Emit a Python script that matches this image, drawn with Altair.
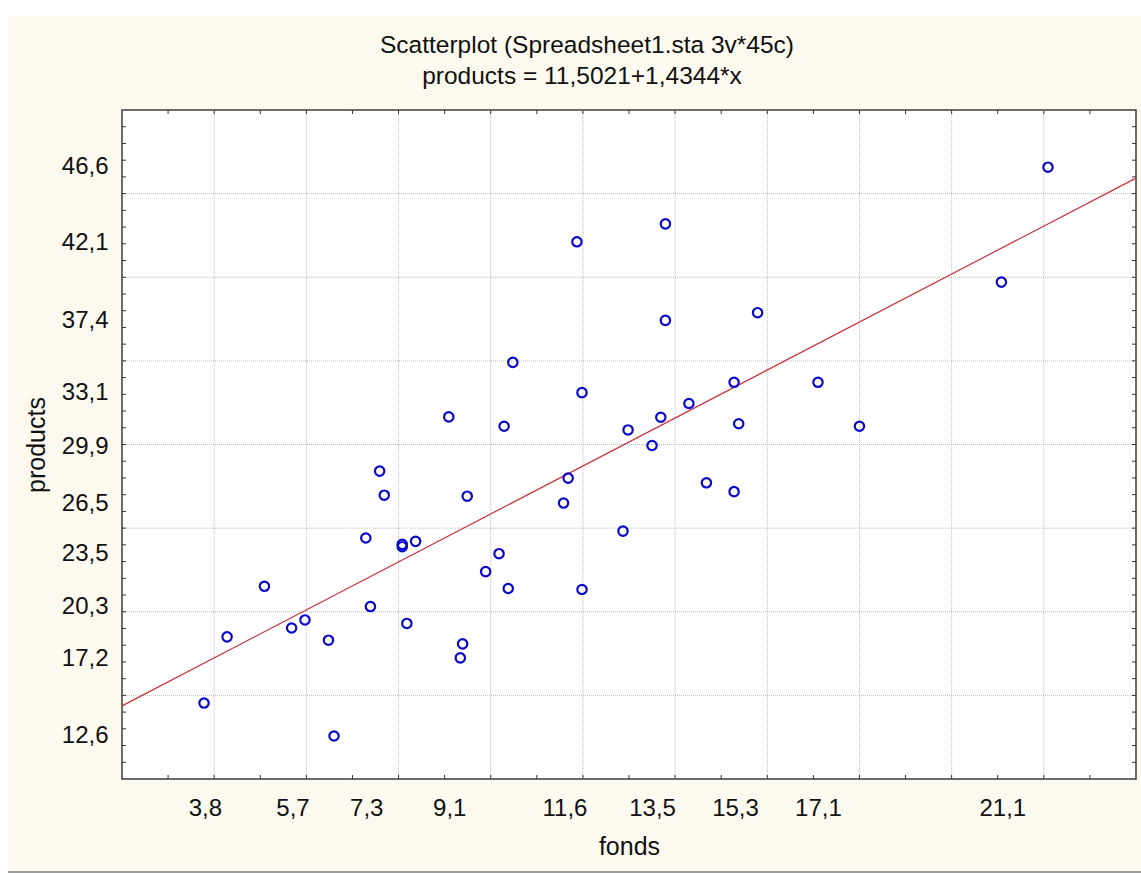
import altair as alt
import pandas as pd

# ---- data ----
fonds = [9.09, 13.79, 11.87, 13.79, 15.79, 10.48, 11.98, 15.28, 14.30, 10.29,
         13.69, 12.98, 15.38, 13.50, 22.09, 21.08, 17.10, 18.00, 7.59, 7.69,
         9.49, 7.29, 8.08, 8.08, 8.37, 5.09, 7.39, 8.18, 5.97, 5.68,
         4.28, 6.48, 9.39, 9.34, 3.78, 6.60, 11.68, 11.58, 14.68, 15.28,
         12.87, 10.18, 9.89, 10.38, 11.98]
products = [31.65, 43.19, 42.12, 37.42, 37.88, 34.91, 33.10, 33.72, 32.45, 31.09,
            31.63, 30.87, 31.24, 29.94, 46.58, 39.71, 33.72, 31.09, 28.41, 26.97,
            26.91, 24.41, 24.03, 23.89, 24.21, 21.52, 20.31, 19.30, 19.51, 19.03,
            18.50, 18.30, 18.08, 17.24, 14.54, 12.57, 27.99, 26.50, 27.71, 27.18,
            24.82, 23.47, 22.40, 21.39, 21.33]

x_labels = [3.8, 5.7, 7.3, 9.1, 11.6, 13.5, 15.3, 17.1, 21.1]
y_labels = [12.6, 17.2, 20.3, 23.5, 26.5, 29.9, 33.1, 37.4, 42.1, 46.6]
x_grid = [4, 6, 8, 10, 12, 14, 16, 18, 20, 22]
y_grid = [15, 20, 25, 30, 35, 40, 45]
x_ticks = [3, 5, 7, 9, 11, 13, 15, 17, 19, 21, 23] + x_grid
y_ticks = [11, 12, 13, 14, 16, 17, 18, 19, 21, 22, 23, 24, 26, 27, 28, 29,
           31, 32, 33, 34, 36, 37, 38, 39, 41, 42, 43, 44, 46, 47, 48, 49] + y_grid
x_domain = [2, 24]
y_domain = [10, 50]
intercept = 11.5021
slope = 1.4344

title_lines = ["Scatterplot (Spreadsheet1.sta 3v*45c)", "products = 11,5021+1,4344*x"]

W, H = 1014, 669
FONT = "Liberation Sans"
label_expr = "replace(format(datum.value, '.1f'), '.', ',')"

xs = alt.Scale(domain=x_domain, nice=False, zero=False)
ys = alt.Scale(domain=y_domain, nice=False, zero=False)

x_axis = alt.Axis(
    values=x_labels, labelExpr=label_expr, title="fonds", grid=False,
    ticks=False, tickSize=0, domain=False, labelFont=FONT, labelFontSize=24,
    labelColor="#111111", labelPadding=17, labelOverlap=False, labelFlush=False,
    titleFont=FONT, titleFontSize=25, titleFontWeight="normal", titleColor="#111111",
    titleBaseline="middle", titleY=67, zindex=1)
y_axis = alt.Axis(
    values=y_labels, labelExpr=label_expr, title="products", grid=False,
    ticks=False, tickSize=0, domain=False, labelFont=FONT, labelFontSize=24,
    labelColor="#111111", labelPadding=14, labelOverlap=False, labelFlush=False,
    titleFont=FONT, titleFontSize=25, titleFontWeight="normal", titleColor="#111111",
    titleAngle=-90, titleBaseline="middle", titleAlign="center",
    titleX=-86, titleY=H / 2, zindex=1)


def X(field):
    return alt.X(field, scale=xs, axis=x_axis)


def Y(field):
    return alt.Y(field, scale=ys, axis=y_axis)


one = alt.Data(values=[{"k": 1}])

# white outer margins and bottom line of the window
top_strip = alt.Chart(one).mark_rect(color="white").encode(
    x=alt.value(-122), x2=alt.value(1019), y=alt.value(-110), y2=alt.value(-94))
left_strip = alt.Chart(one).mark_rect(color="white").encode(
    x=alt.value(-122), x2=alt.value(-114), y=alt.value(-110), y2=alt.value(763))
bottom_line = alt.Chart(one).mark_rule(color="#9a9a9a", strokeWidth=2).encode(
    x=alt.value(-114), x2=alt.value(1019), y=alt.value(762))

# title lines
t1 = alt.Chart(alt.Data(values=[{"t": title_lines[0]}])).mark_text(
    font=FONT, fontSize=24.5, color="#111111", align="center", baseline="alphabetic"
).encode(text="t:N", x=alt.value(465), y=alt.value(-57))
t2 = alt.Chart(alt.Data(values=[{"t": title_lines[1]}])).mark_text(
    font=FONT, fontSize=24.5, color="#111111", align="center", baseline="alphabetic"
).encode(text="t:N", x=alt.value(460), y=alt.value(-26))

grid_style = dict(color="#bdbdbd", strokeDash=[1, 1], strokeWidth=1)
xgrid = alt.Chart(pd.DataFrame({"fonds": x_grid})).mark_rule(**grid_style).encode(
    x=X("fonds:Q"))
ygrid = alt.Chart(pd.DataFrame({"products": y_grid})).mark_rule(**grid_style).encode(
    y=Y("products:Q"))

tick_style = dict(color="#333333", strokeWidth=1)
xt = pd.DataFrame({"fonds": x_ticks})
yt = pd.DataFrame({"products": y_ticks})
bt = alt.Chart(xt).mark_rule(**tick_style).encode(
    x=X("fonds:Q"), y=alt.value(H), y2=alt.value(H - 4))
tt = alt.Chart(xt).mark_rule(**tick_style).encode(
    x=X("fonds:Q"), y=alt.value(0), y2=alt.value(4))
lt = alt.Chart(yt).mark_rule(**tick_style).encode(
    y=Y("products:Q"), x=alt.value(0), x2=alt.value(4))
rt = alt.Chart(yt).mark_rule(**tick_style).encode(
    y=Y("products:Q"), x=alt.value(W - 4), x2=alt.value(W))

line_df = pd.DataFrame({"fonds": x_domain,
                        "products": [intercept + slope * v for v in x_domain]})
reg = alt.Chart(line_df).mark_line(color="#c8323c", strokeWidth=1.2).encode(
    x=X("fonds:Q"), y=Y("products:Q"))

pts = alt.Chart(pd.DataFrame({"fonds": fonds, "products": products})).mark_point(
    shape="circle", filled=False, size=88, strokeWidth=2.2, color="#0a0ac8", opacity=1
).encode(x=X("fonds:Q"), y=Y("products:Q"))

chart = alt.layer(top_strip, left_strip, bottom_line, t1, t2, xgrid, ygrid,
                  bt, tt, lt, rt, reg, pts).properties(
    width=W, height=H,
    padding={"left": 122, "top": 110, "right": 5, "bottom": 94},
    autosize=alt.AutoSizeParams(type="none"),
).configure(background="#fcf9ef").configure_view(stroke="#3c3c3c", strokeWidth=1.5, fill="white")

chart.save("out.html", embed_options={"renderer": "svg", "actions": False})
